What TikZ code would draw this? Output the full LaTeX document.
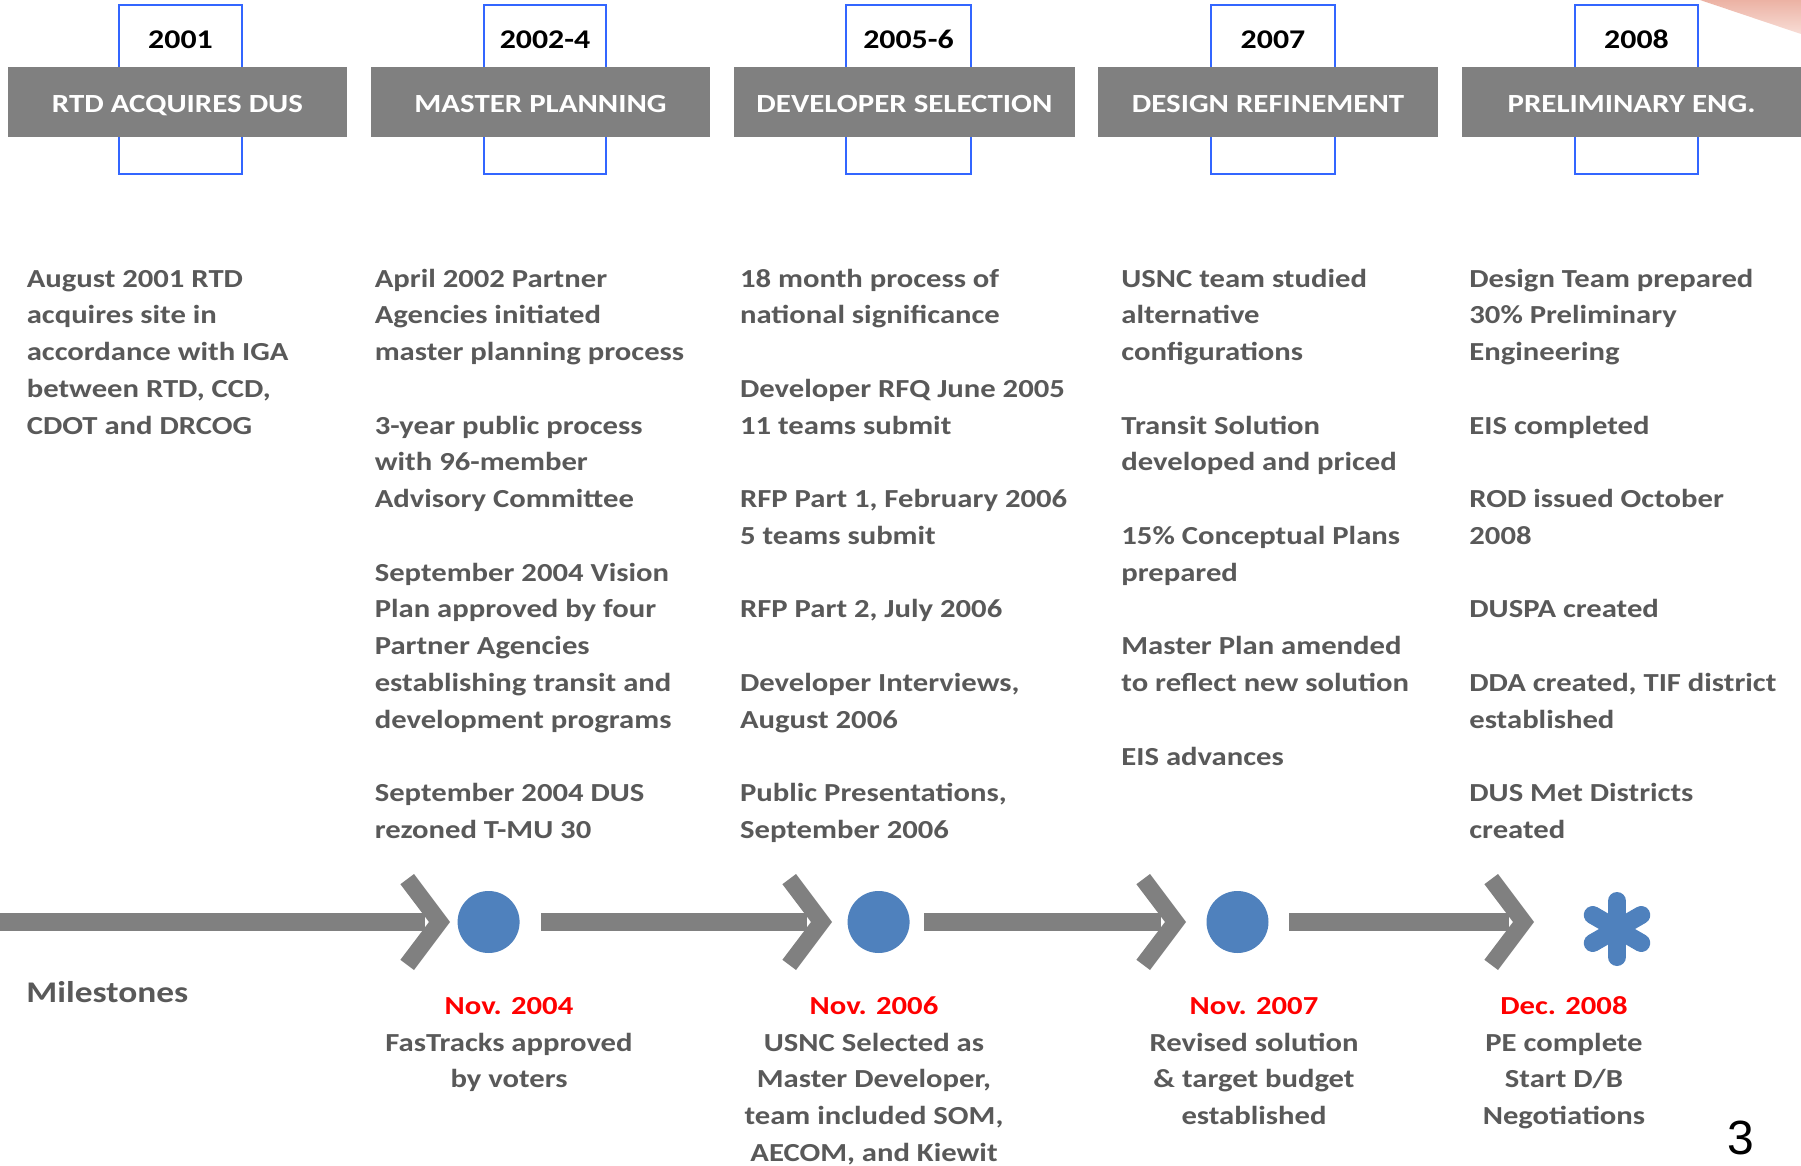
\documentclass[tikz,border=0pt]{standalone}
\usepackage{fontspec}
\setmainfont{Carlito}[FakeStretch=1.18]
\newfontfamily\numfont{Liberation Sans}
\usetikzlibrary{calc}
\definecolor{boxgray}{HTML}{808080}
\definecolor{txtgray}{HTML}{595959}
\definecolor{frameblue}{HTML}{3366FF}
\definecolor{dotblue}{HTML}{4F81BD}
\definecolor{wedgetop}{HTML}{ECB2A4}
\definecolor{wedgebot}{HTML}{F8DDD6}
\tikzset{
  bluebox/.style={draw=frameblue, line width=1.2pt, fill=white},
  headbox/.style={fill=boxgray, text=white, inner sep=0pt, minimum height=35pt,
    font=\fontsize{13.1}{16}\selectfont\bfseries, text height=0.644em+4pt, text depth=0pt},
  yeartext/.style={inner sep=0pt, text=black, font=\fontsize{13.5}{16}\selectfont\bfseries,
    text height=0.644em+3.5pt, text depth=0pt},
  coltext/.style={inner sep=0pt, anchor=north west, align=left, text=txtgray,
    font=\fontsize{13}{18.38}\selectfont\bfseries},
  mstext/.style={inner sep=0pt, anchor=north, align=center, text=txtgray,
    font=\fontsize{13}{18.38}\selectfont\bfseries},
  shaft/.style={draw=boxgray, line width=9pt},
  chev/.style={fill=boxgray},
  dot/.style={circle, fill=dotblue, minimum size=31pt, inner sep=0pt},
  astarm/.style={draw=dotblue, line width=9pt, line cap=round}
}
\newcommand\gapln{\\[18.38pt]}
\begin{document}
\begin{tikzpicture}[x=0.5pt,y=-0.5pt]
\useasboundingbox (0,0) rectangle (1801,1166);
\fill[white] (0,0) rectangle (1801,1166);
% corner wedge
\shade[top color=wedgetop, bottom color=wedgebot] (1700,0) -- (1801,0) -- (1801,34) -- cycle;
% header
\foreach \bl/\br/\gl/\gr/\yr/\hd/\i in {
  119/242/8/347/2001/RTD ACQUIRES DUS/1,
  484/606/371/710/2002-4/MASTER PLANNING/2,
  846/971/734/1075/2005-6/DEVELOPER SELECTION/3,
  1211/1335/1098/1438/2007/DESIGN REFINEMENT/4,
  1575/1698/1462/1801/2008/PRELIMINARY ENG./5}{
  \draw[bluebox] (\bl,5) rectangle (\br,174);
  \node[yeartext] (yr\i) at ({(\bl+\br)/2},39) {\yr};
  \node[headbox, minimum width={(\gr-\gl)*0.5pt}] (hd\i) at ({(\gl+\gr)/2},102) {\hd};
}
% body columns
\node[coltext] (c1) at (26.4,261) {\strut August 2001 RTD\\acquires site in\\accordance with IGA\\between RTD, CCD,\\CDOT and DRCOG};
\node[coltext] (c2) at (374.4,261) {\strut April 2002 Partner\\Agencies initiated\\master planning process\gapln
3-year public process\\with 96-member\\Advisory Committee\gapln
September 2004 Vision\\Plan approved by four\\Partner Agencies\\establishing transit and\\development programs\gapln
September 2004 DUS\\rezoned T-MU 30};
\node[coltext] (c3) at (739.7,261) {\strut 18 month process of\\national significance\gapln
Developer RFQ June 2005\\11 teams submit\gapln
RFP Part 1, February 2006\\5 teams submit\gapln
RFP Part 2, July 2006\gapln
Developer Interviews,\\August 2006\gapln
Public Presentations,\\September 2006};
\node[coltext] (c4) at (1121,261) {\strut USNC team studied\\alternative\\configurations\gapln
Transit Solution\\developed and priced\gapln
15\% Conceptual Plans\\prepared\gapln
Master Plan amended\\to reflect new solution\gapln
EIS advances};
\node[coltext] (c5) at (1469,261) {\strut Design Team prepared\\30\% Preliminary\\Engineering\gapln
EIS completed\gapln
ROD issued October\\2008\gapln
DUSPA created\gapln
DDA created, TIF district\\established\gapln
DUS Met Districts\\created};
% timeline
\coordinate (s1) at (0,922);
\coordinate (s2) at (541,922);
\coordinate (s3) at (924,922);
\coordinate (s4) at (1289,922);
\coordinate (t1) at (450,922);
\coordinate (t2) at (832,922);
\coordinate (t3) at (1186,922);
\coordinate (t4) at (1534,922);
\foreach \i in {1,2,3,4}{
  \draw[shaft] (s\i) -- ($(t\i)+(-25,0)$);
  \fill[chev, shift={(t\i)}] (0,0) -- (-36,-48) -- (-49.6,-37.8) -- (-21,0) -- (-49.6,37.8) -- (-36,48) -- cycle;
}
\node[dot] (d1) at (488.6,922) {};
\node[dot] (d2) at (878.6,922) {};
\node[dot] (d3) at (1237.5,922) {};
\coordinate (ast) at (1617,929);
\foreach \a in {90,30,150}{
  \draw[astarm] ($(ast)+(\a:28)$) -- ($(ast)+(\a+180:28)$);
}
% milestones
\node[inner sep=0pt, anchor=base west, text=txtgray, font=\fontsize{15}{18}\selectfont\bfseries] (ms) at (26,1002) {Milestones};
\node[mstext] (m1) at (509,988.3) {\strut\textcolor{red}{Nov. 2004}\\FasTracks approved\\by voters};
\node[mstext] (m2) at (874,988.3) {\strut\textcolor{red}{Nov. 2006}\\USNC Selected as\\Master Developer,\\team included SOM,\\AECOM, and Kiewit};
\node[mstext] (m3) at (1254,988.3) {\strut\textcolor{red}{Nov. 2007}\\Revised solution\\\& target budget\\established};
\node[mstext] (m4) at (1564,988.3) {\strut\textcolor{red}{Dec. 2008}\\PE complete\\Start D/B\\Negotiations};
\node[inner sep=0pt, anchor=base west, font=\numfont\fontsize{24}{28}\selectfont] (pg) at (1727,1154) {3};
\end{tikzpicture}
\end{document}
